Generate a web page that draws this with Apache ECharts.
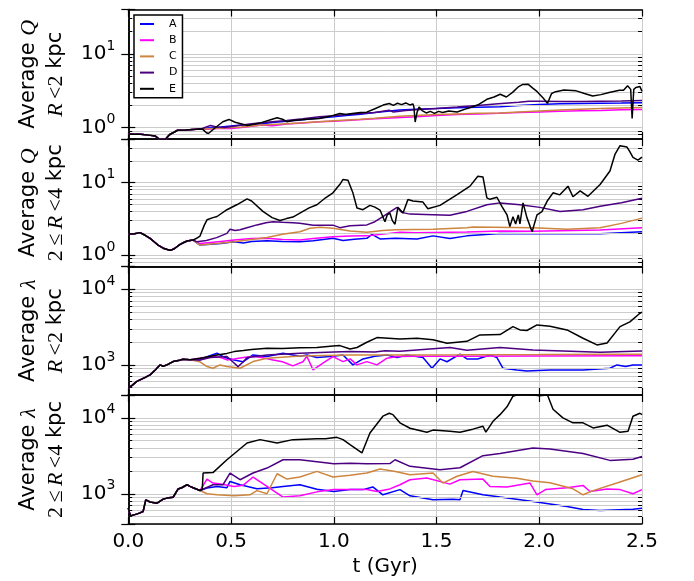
<!DOCTYPE html>
<html>
<head>
<meta charset="utf-8">
<script src="https://cdn.jsdelivr.net/npm/echarts@6/dist/echarts.min.js"></script>
<style>
html,body{margin:0;padding:0;background:#fff;}
#chart{width:694px;height:581px;}
</style>
</head>
<body>
<div id="chart"></div>
<script>
// ---------------- DATA ----------------
const seriesNames = ['A', 'B', 'C', 'D', 'E'];
const xTicks = [0, 0.5, 1.0, 1.5, 2.0, 2.5];

// Panel 1: Average Q, R<2 kpc
const q1Shared = [[0,0.82],[0.03,0.81],[0.06,0.81],[0.1,0.79],[0.13,0.77],[0.15,0.7],[0.18,0.69],[0.2,0.8],[0.24,0.92],[0.28,0.93],[0.33,0.95]];
const q1A = [[0.36,0.96],[0.4,1.0],[0.45,1.02],[0.5,1.05],[0.55,1.08],[0.6,1.1],[0.65,1.13],[0.7,1.17],[0.77,1.22],[0.85,1.28],[0.93,1.35],[1.0,1.4],[1.06,1.46],[1.13,1.52],[1.2,1.6],[1.32,1.73],[1.4,1.78],[1.5,1.82],[1.6,1.86],[1.7,1.89],[1.81,1.91],[1.9,2.0],[2.0,2.06],[2.1,2.1],[2.2,2.12],[2.3,2.14],[2.4,2.15],[2.5,2.17]];
const q1B = [[0.36,0.95],[0.4,0.96],[0.45,0.98],[0.5,0.97],[0.55,1.0],[0.6,1.04],[0.65,1.08],[0.7,1.06],[0.77,1.12],[0.85,1.15],[0.93,1.2],[1.0,1.22],[1.1,1.27],[1.2,1.32],[1.3,1.36],[1.4,1.4],[1.5,1.46],[1.6,1.5],[1.7,1.53],[1.8,1.56],[1.9,1.6],[2.0,1.63],[2.1,1.66],[2.2,1.69],[2.3,1.71],[2.4,1.74],[2.5,1.76]];
const q1C = [[0.36,0.95],[0.4,0.97],[0.45,0.98],[0.5,1.0],[0.55,1.02],[0.6,1.05],[0.65,1.08],[0.7,1.1],[0.77,1.13],[0.85,1.16],[0.93,1.2],[1.0,1.24],[1.13,1.3],[1.2,1.34],[1.32,1.43],[1.4,1.46],[1.5,1.5],[1.6,1.53],[1.7,1.56],[1.81,1.58],[1.9,1.63],[2.0,1.68],[2.1,1.73],[2.2,1.77],[2.3,1.81],[2.4,1.85],[2.5,1.88]];
const q1D = [[0.36,0.97],[0.4,1.07],[0.43,1.02],[0.47,1.0],[0.52,1.05],[0.6,1.13],[0.65,1.16],[0.7,1.2],[0.77,1.25],[0.85,1.32],[0.93,1.4],[1.0,1.45],[1.06,1.5],[1.13,1.55],[1.2,1.6],[1.27,1.72],[1.29,1.63],[1.35,1.7],[1.4,1.75],[1.5,1.82],[1.6,1.9],[1.7,2.0],[1.8,2.1],[1.9,2.2],[1.95,2.28],[2.0,2.28],[2.1,2.26],[2.2,2.26],[2.3,2.28],[2.4,2.3],[2.5,2.33]];
const q1E = [[0.36,0.96],[0.38,0.85],[0.39,0.83],[0.42,0.98],[0.46,1.2],[0.49,1.29],[0.52,1.18],[0.58,1.07],[0.64,1.15],[0.7,1.3],[0.724,1.36],[0.75,1.3],[0.772,1.2],[0.8,1.25],[0.87,1.3],[0.93,1.33],[0.98,1.42],[1.03,1.55],[1.06,1.5],[1.09,1.55],[1.13,1.6],[1.16,1.62],[1.2,1.8],[1.24,2.02],[1.27,2.12],[1.29,2.0],[1.31,2.14],[1.33,2.05],[1.35,2.16],[1.37,2.03],[1.385,2.1],[1.39,1.9],[1.396,1.19],[1.405,1.6],[1.415,1.9],[1.43,1.7],[1.45,1.58],[1.47,1.66],[1.49,1.56],[1.51,1.66],[1.53,1.6],[1.56,1.68],[1.6,1.63],[1.65,1.82],[1.7,2.02],[1.745,2.42],[1.78,2.6],[1.81,2.83],[1.84,2.6],[1.87,3.0],[1.9,3.6],[1.92,3.85],[1.945,3.88],[1.97,3.4],[1.99,3.07],[2.02,2.5],[2.04,2.13],[2.06,2.9],[2.08,3.07],[2.12,3.24],[2.18,3.15],[2.22,2.9],[2.26,2.68],[2.3,2.8],[2.34,3.0],[2.39,3.2],[2.41,3.2],[2.43,3.7],[2.445,3.3],[2.452,1.33],[2.46,3.3],[2.47,3.5],[2.49,3.6],[2.5,3.1]];

// Panel 2: Average Q, 2<=R<4 kpc
const q2Shared = [[0,1.96],[0.03,1.98],[0.057,2.05],[0.08,1.9],[0.106,1.71],[0.13,1.5],[0.145,1.38],[0.17,1.25],[0.19,1.2],[0.203,1.17],[0.215,1.2],[0.227,1.25],[0.25,1.4],[0.27,1.5],[0.286,1.57],[0.315,1.62]];
const q2A = [[0.349,1.38],[0.4,1.42],[0.45,1.45],[0.515,1.53],[0.56,1.48],[0.6,1.55],[0.675,1.58],[0.75,1.55],[0.835,1.53],[0.9,1.58],[0.996,1.71],[1.045,1.6],[1.1,1.66],[1.161,1.71],[1.186,1.94],[1.225,1.68],[1.3,1.72],[1.405,1.67],[1.483,1.85],[1.565,1.7],[1.648,1.85],[1.809,2.0],[2.0,1.98],[2.296,1.98],[2.5,2.11]];
const q2B = [[0.349,1.45],[0.4,1.5],[0.45,1.55],[0.515,1.62],[0.6,1.7],[0.675,1.71],[0.75,1.65],[0.835,1.62],[0.9,1.7],[0.996,1.8],[1.079,1.84],[1.161,1.85],[1.322,2.07],[1.4,2.05],[1.648,2.1],[1.809,2.16],[1.969,2.15],[2.296,2.23],[2.5,2.4]];
const q2C = [[0.349,1.38],[0.43,1.45],[0.515,1.53],[0.6,1.65],[0.675,1.76],[0.75,1.95],[0.835,2.11],[0.884,2.36],[0.933,2.43],[0.996,2.36],[1.079,2.16],[1.161,2.07],[1.239,2.2],[1.3,2.25],[1.483,2.28],[1.648,2.4],[1.677,2.45],[1.969,2.4],[2.135,2.28],[2.296,2.4],[2.4,2.75],[2.5,3.25]];
const q2D = [[0.334,1.53],[0.38,1.6],[0.43,1.75],[0.48,2.0],[0.495,2.28],[0.52,2.2],[0.544,2.25],[0.59,2.45],[0.626,2.62],[0.67,2.8],[0.704,2.9],[0.75,2.85],[0.801,2.8],[0.835,2.77],[0.9,2.6],[0.996,2.6],[1.03,2.4],[1.079,2.55],[1.161,2.62],[1.2,2.9],[1.239,3.42],[1.27,3.9],[1.308,4.57],[1.33,3.9],[1.371,3.69],[1.483,3.61],[1.565,3.55],[1.648,4.02],[1.745,4.97],[1.809,5.27],[1.906,4.97],[2.003,4.57],[2.101,4.02],[2.213,4.25],[2.296,4.72],[2.4,5.3],[2.5,6.1]];
const q2E = [[0.33,1.7],[0.349,1.84],[0.37,2.6],[0.383,3.08],[0.412,3.3],[0.432,3.42],[0.48,4.24],[0.53,5.0],[0.578,5.98],[0.6,5.6],[0.655,4.02],[0.7,3.3],[0.738,3.01],[0.77,3.2],[0.801,3.36],[0.835,3.81],[0.88,4.5],[0.918,4.97],[0.96,6.2],[0.996,7.25],[1.03,9.5],[1.045,11.1],[1.069,10.8],[1.093,7.25],[1.113,4.48],[1.142,4.24],[1.176,4.87],[1.2,4.6],[1.225,4.2],[1.249,2.9],[1.26,3.6],[1.273,3.81],[1.285,3.0],[1.298,2.68],[1.312,4.57],[1.337,3.81],[1.361,5.85],[1.385,5.6],[1.434,5.4],[1.458,4.38],[1.517,4.87],[1.6,6.87],[1.663,8.96],[1.701,12.3],[1.726,12.0],[1.745,6.17],[1.76,5.9],[1.794,6.3],[1.818,4.72],[1.843,3.61],[1.857,2.48],[1.872,3.4],[1.885,2.7],[1.898,3.6],[1.906,2.7],[1.921,5.27],[1.94,3.3],[1.965,2.11],[1.989,3.6],[2.013,4.0],[2.038,5.54],[2.067,7.25],[2.1,6.8],[2.14,8.96],[2.164,6.4],[2.199,7.7],[2.237,6.5],[2.296,9.45],[2.344,14.5],[2.369,24.8],[2.393,32.4],[2.427,31],[2.44,27],[2.456,22.3],[2.48,20.5],[2.5,22.5]];

// Panel 3: Average lambda, R<2 kpc
const l1Shared = [[0,492],[0.02,540],[0.04,600],[0.057,634],[0.08,680],[0.106,738],[0.13,850],[0.154,1000],[0.17,960],[0.188,1000],[0.218,1106],[0.25,1150],[0.266,1189],[0.3,1170]];
const l1A = [[0.349,1164],[0.39,1300],[0.432,1428],[0.47,1250],[0.515,1164],[0.558,1100],[0.607,1355],[0.675,1288],[0.753,1428],[0.835,1300],[0.869,1355],[0.918,1250],[0.996,1300],[1.045,1355],[1.093,1000],[1.142,1200],[1.2,1300],[1.259,1355],[1.308,1250],[1.356,1355],[1.434,1250],[1.478,904],[1.517,1200],[1.551,1100],[1.614,1385],[1.648,1200],[1.7,1200],[1.76,1355],[1.794,1250],[1.823,904],[1.891,859],[1.94,830],[2.052,859],[2.115,859],[2.213,859],[2.344,904],[2.378,1000],[2.42,950],[2.456,1000],[2.5,1000]];
const l1B = [[0.349,1226],[0.412,1288],[0.45,1250],[0.48,1164],[0.515,1200],[0.56,1250],[0.607,1288],[0.65,1250],[0.704,1164],[0.75,1100],[0.801,970],[0.85,1100],[0.869,1300],[0.899,859],[0.947,1053],[0.996,1288],[1.045,1106],[1.08,1200],[1.113,1000],[1.161,1106],[1.21,1000],[1.259,1226],[1.308,1288],[1.4,1300],[1.6,1305],[2.0,1315],[2.5,1320]];
const l1C = [[0.349,1100],[0.383,950],[0.412,904],[0.446,1000],[0.48,950],[0.544,904],[0.607,1106],[0.675,1226],[0.835,1315],[1.079,1350],[1.322,1355],[1.6,1360],[2.0,1370],[2.5,1385]];
const l1D = [[0.349,1164],[0.4,1250],[0.48,1288],[0.5,1150],[0.534,950],[0.56,1100],[0.578,1250],[0.675,1355],[0.835,1428],[1.0,1480],[1.079,1499],[1.2,1480],[1.25,1540],[1.322,1520],[1.565,1693],[1.648,1560],[1.809,1693],[1.97,1580],[2.296,1472],[2.5,1531]];
const l1E = [[0.349,1226],[0.4,1300],[0.432,1355],[0.48,1420],[0.515,1499],[0.56,1550],[0.6,1600],[0.675,1661],[0.75,1650],[0.835,1680],[0.918,1700],[0.996,1783],[1.03,1800],[1.079,1627],[1.113,1700],[1.161,1993],[1.21,2295],[1.322,2206],[1.405,2250],[1.483,2150],[1.551,1935],[1.648,2050],[1.711,2490],[1.809,2520],[1.872,3205],[1.906,2900],[1.94,2850],[1.989,3378],[2.052,3250],[2.135,2900],[2.213,2253],[2.281,1838],[2.33,1950],[2.393,3205],[2.441,3700],[2.49,4818],[2.5,5000]];

// Panel 4: Average lambda, 2<=R<4 kpc
const l2Shared = [[0,647],[0.01,512],[0.04,540],[0.057,560],[0.072,584],[0.085,833],[0.106,780],[0.14,753],[0.17,850],[0.188,877],[0.218,900],[0.242,1154],[0.26,1200],[0.286,1315],[0.3,1250],[0.315,1200],[0.349,1105]];
const l2A = [[0.383,1190],[0.432,1249],[0.48,1200],[0.495,1454],[0.544,1315],[0.626,1163],[0.7,1200],[0.753,1249],[0.835,1315],[0.918,1150],[1.0,1073],[1.079,1135],[1.142,1135],[1.19,1230],[1.239,970],[1.322,1135],[1.371,940],[1.483,833],[1.58,845],[1.614,833],[1.629,1105],[1.726,970],[1.809,904],[1.97,791],[2.135,680],[2.213,620],[2.296,602],[2.456,625],[2.5,647]];
const l2B = [[0.383,1563],[0.412,1384],[0.45,1350],[0.515,1249],[0.56,1300],[0.607,1662],[0.675,1249],[0.753,904],[0.835,940],[0.918,1060],[1.0,1135],[1.079,1135],[1.161,1135],[1.21,1073],[1.273,1160],[1.322,1315],[1.371,1531],[1.453,1612],[1.565,1340],[1.614,1531],[1.726,1560],[1.76,1249],[1.843,1230],[1.955,1384],[1.989,970],[2.03,1135],[2.135,1200],[2.213,1290],[2.247,1073],[2.33,1160],[2.393,1135],[2.456,1000],[2.5,1135]];
const l2C = [[0.383,1000],[0.432,970],[0.515,940],[0.592,970],[0.626,1100],[0.675,1000],[0.724,1837],[0.772,1563],[0.835,1662],[0.918,1971],[0.996,1662],[1.079,1750],[1.161,1876],[1.225,2120],[1.3,1971],[1.371,1783],[1.483,1876],[1.531,1384],[1.6,1700],[1.677,1971],[1.775,1700],[1.891,1600],[1.969,1471],[2.052,1400],[2.164,1163],[2.213,970],[2.262,1100],[2.378,1384],[2.5,1783]];
const l2D = [[0.412,1315],[0.461,1315],[0.495,1876],[0.544,1531],[0.607,1876],[0.675,2183],[0.753,2809],[0.835,2809],[0.918,2650],[1.0,2490],[1.079,2520],[1.161,2490],[1.273,2500],[1.298,2809],[1.371,2300],[1.517,2077],[1.614,2200],[1.726,3178],[1.809,3400],[1.969,4009],[2.052,3900],[2.213,3400],[2.344,2754],[2.456,2850],[2.5,3105]];
const l2E = [[0.36,1150],[0.364,1876],[0.412,1900],[0.48,2809],[0.578,4671],[0.641,5167],[0.724,4671],[0.801,5167],[0.918,5300],[0.96,5300],[1.015,5540],[1.045,5167],[1.079,4428],[1.137,3449],[1.176,6328],[1.239,10520],[1.27,11500],[1.288,11020],[1.322,8600],[1.371,7300],[1.453,6450],[1.483,6900],[1.565,6654],[1.614,6450],[1.677,7100],[1.726,7753],[1.74,6500],[1.775,9000],[1.809,11020],[1.843,14000],[1.872,19260],[1.9,20500],[1.95,20500],[2.0,19500],[2.04,20000],[2.067,13000],[2.115,10000],[2.164,8600],[2.213,8600],[2.262,7370],[2.33,8000],[2.393,6450],[2.432,6654],[2.456,10520],[2.49,11500],[2.5,11000]];

// Axis ranges and minor tick values
const yMin = [0.7, 0.7, 400, 400];
const yMax = [40, 40, 20000, 20000];
const minorTicksQ = [0.8, 0.9, 2, 3, 4, 5, 6, 7, 8, 9, 20, 30];
const minorTicksL = [500, 600, 700, 800, 900, 2000, 3000, 4000, 5000, 6000, 7000, 8000, 9000];

const panelData = [
  {shared: q1Shared, s: [q1A, q1B, q1C, q1D, q1E], minors: minorTicksQ},
  {shared: q2Shared, s: [q2A, q2B, q2C, q2D, q2E], minors: minorTicksQ},
  {shared: l1Shared, s: [l1A, l1B, l1C, l1D, l1E], minors: minorTicksL},
  {shared: l2Shared, s: [l2A, l2B, l2C, l2D, l2E], minors: minorTicksL}
];

const yNames = [
  '{n|Average }{i|Q}\n{i|R}{m|\u2009<2}{n| kpc}',
  '{n|Average }{i|Q}\n{m|2\u2009≤\u2009}{i|R}{m|\u2009<4}{n| kpc}',
  '{n|Average }{i|λ}\n{i|R}{m|\u2009<2}{n| kpc}',
  '{n|Average }{i|λ}\n{m|2\u2009≤\u2009}{i|R}{m|\u2009<4}{n| kpc}'
];

// ---------------- CHART ----------------
const colors = ['#0000ff', '#ff00ff', '#cd853f', '#4b0082', '#000000'];
const gridTops = [9.5, 139, 266.5, 395];
const gridHeights = [129.5, 127.5, 128.5, 129];
const GRID_COLOR = '#cccccc';

const chart = echarts.init(document.getElementById('chart'), null, {renderer: 'canvas'});

const grids = gridTops.map((t, i) => ({left: 128.3, width: 513.7, top: t, height: gridHeights[i], containLabel: false}));

const xAxes = [];
const yAxes = [];
const series = [];

function isPow10(v) {
  const l = Math.log10(v);
  return Math.abs(l - Math.round(l)) < 1e-6;
}

for (let i = 0; i < 4; i++) {
  // bottom x
  xAxes.push({
    type: 'value', gridIndex: i, position: 'bottom', min: 0, max: 2.5, interval: 0.5,
    axisLine: {show: true, onZero: false, lineStyle: {color: '#000', width: 1.5}},
    axisTick: {show: true, inside: true, length: 7, lineStyle: {color: '#000', width: 1.2}},
    splitLine: {show: true, lineStyle: {color: GRID_COLOR, width: 1}},
    axisLabel: {show: i === 3, fontSize: 20, color: '#000', margin: 8, fontFamily: 'DejaVu Sans',
      formatter: v => Number(v).toFixed(1)},
    name: i === 3 ? 't (Gyr)' : '', nameLocation: 'middle', nameGap: 33,
    nameTextStyle: {fontSize: 20, color: '#000', fontFamily: 'DejaVu Sans'}
  });
  // top x
  xAxes.push({
    type: 'value', gridIndex: i, position: 'top', min: 0, max: 2.5, interval: 0.5,
    axisLine: {show: true, onZero: false, lineStyle: {color: '#000', width: 1.5}},
    axisTick: {show: true, inside: true, length: 7, lineStyle: {color: '#000', width: 1.2}},
    splitLine: {show: false}, axisLabel: {show: false}
  });
  // left y
  yAxes.push({
    type: 'log', logBase: 10, gridIndex: i, position: 'left', min: yMin[i], max: yMax[i],
    axisLine: {show: true, lineStyle: {color: '#000', width: 1.5}},
    axisTick: {show: true, inside: true, length: 7, lineStyle: {color: '#000', width: 1.2}},
    splitLine: {show: true, lineStyle: {color: GRID_COLOR, width: 1}},
    axisLabel: {
      show: true, margin: 13, color: '#000',
      formatter: v => {
        if (!isPow10(v)) return '';
        return '{b|10}{s|' + Math.round(Math.log10(v)) + '}';
      },
      rich: {
        b: {fontSize: 20, lineHeight: 30, fontFamily: 'DejaVu Sans', color: '#000'},
        s: {fontSize: 14, lineHeight: 14, verticalAlign: 'top', fontFamily: 'DejaVu Sans', color: '#000'}
      }
    },
    name: yNames[i], nameLocation: 'middle', nameRotate: 90, nameGap: 59,
    nameTextStyle: {
      align: 'center',
      rich: {
        n: {fontSize: 21, lineHeight: 27, fontFamily: 'DejaVu Sans', color: '#000'},
        i: {fontSize: 22, lineHeight: 27, fontFamily: 'Liberation Serif', fontStyle: 'italic', color: '#000'},
        m: {fontSize: 22, lineHeight: 27, fontFamily: 'Liberation Serif', color: '#000'}
      }
    }
  });
  // right y
  yAxes.push({
    type: 'log', logBase: 10, gridIndex: i, position: 'right', min: yMin[i], max: yMax[i],
    axisLine: {show: true, lineStyle: {color: '#000', width: 1.5}},
    axisTick: {show: true, inside: true, length: 7, lineStyle: {color: '#000', width: 1.2}},
    splitLine: {show: false}, axisLabel: {show: false}
  });

  // minor grid lines and minor ticks via markLine on a helper series
  const mk = [];
  panelData[i].minors.forEach(v => {
    mk.push({yAxis: v, lineStyle: {color: GRID_COLOR, width: 1, type: 'solid'}});
    mk.push([{coord: [0, v], lineStyle: {color: '#000', width: 1, type: 'solid'}}, {coord: [0.019, v]}]);
    mk.push([{coord: [2.481, v], lineStyle: {color: '#000', width: 1, type: 'solid'}}, {coord: [2.5, v]}]);
  });
  series.push({
    type: 'line', xAxisIndex: 2 * i, yAxisIndex: 2 * i, data: [], z: 1, silent: true,
    markLine: {silent: true, symbol: ['none', 'none'], label: {show: false}, animation: false, data: mk}
  });

  // data series
  seriesNames.forEach((nm, k) => {
    series.push({
      name: nm, type: 'line', xAxisIndex: 2 * i, yAxisIndex: 2 * i,
      data: panelData[i].shared.concat(panelData[i].s[k]),
      showSymbol: false, symbol: 'none', z: 3 + k,
      lineStyle: {color: colors[k], width: 1.5},
      itemStyle: {color: colors[k]},
      animation: false
    });
  });
}

const option = {
  animation: false,
  backgroundColor: '#fff',
  textStyle: {fontFamily: 'DejaVu Sans'},
  grid: grids,
  xAxis: xAxes,
  yAxis: yAxes,
  legend: {
    data: seriesNames, orient: 'vertical', left: 134, top: 15,
    icon: 'rect', itemWidth: 14, itemHeight: 2, itemGap: 4.2,
    textStyle: {fontSize: 11, lineHeight: 12, color: '#000', fontFamily: 'DejaVu Sans', padding: [0, 0, 0, 10]},
    borderColor: '#000', borderWidth: 1.5, padding: [3, 5, 3, 6], backgroundColor: '#fff',
    selectedMode: false, z: 10
  },
  series: series
};
chart.setOption(option);
</script>
</body>
</html>
